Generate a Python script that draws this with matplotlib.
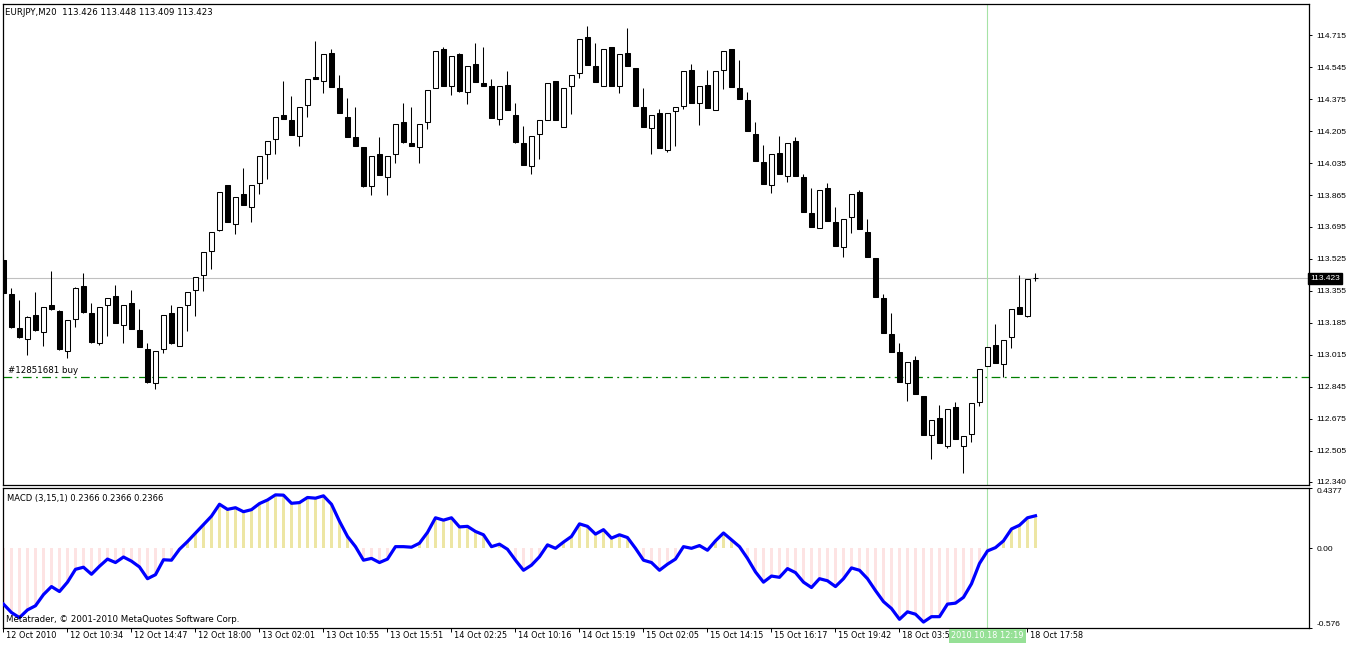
import matplotlib
matplotlib.use("Agg")
import matplotlib.pyplot as plt
import matplotlib.transforms as mtransforms
import numpy as np

plt.rcParams['font.family'] = ['DejaVu Sans']

# EURJPY M20 bars (oldest first, last one is the live bar)
opens = [113.520, 113.339, 113.158, 113.100, 113.227, 113.137, 113.281, 113.249, 113.036, 113.206,
         113.381, 113.238, 113.078, 113.281, 113.328, 113.174, 113.291, 113.148, 113.047, 112.866,
         113.047, 113.238, 113.063, 113.281, 113.360, 113.440, 113.567, 113.679, 113.918, 113.711,
         113.870, 113.801, 113.929, 114.083, 114.162, 114.290, 114.263, 114.178, 114.343, 114.492,
         114.471, 114.619, 114.433, 114.279, 114.173, 114.120, 113.913, 114.083, 113.961, 114.083,
         114.253, 114.141, 114.120, 114.253, 114.433, 114.641, 114.444, 114.614, 114.412, 114.561,
         114.460, 114.444, 114.269, 114.449, 114.290, 114.141, 114.019, 114.189, 114.263, 114.471,
         114.226, 114.444, 114.513, 114.704, 114.550, 114.444, 114.651, 114.444, 114.619, 114.540,
         114.332, 114.221, 114.301, 114.104, 114.311, 114.338, 114.529, 114.354, 114.449, 114.317,
         114.529, 114.641, 114.433, 114.370, 114.189, 114.040, 113.918, 114.088, 113.966, 114.152,
         113.961, 113.769, 113.690, 113.902, 113.721, 113.589, 113.748, 113.881, 113.668, 113.530,
         113.318, 113.126, 113.031, 112.866, 112.988, 112.797, 112.590, 112.680, 112.531, 112.738,
         112.531, 112.595, 112.765, 112.956, 113.068, 112.967, 113.110, 113.270, 113.222, 113.426]
closes = [113.344, 113.164, 113.111, 113.217, 113.148, 113.270, 113.259, 113.047, 113.201, 113.371,
          113.243, 113.084, 113.270, 113.318, 113.185, 113.281, 113.153, 113.057, 112.871, 113.036,
          113.227, 113.078, 113.270, 113.349, 113.429, 113.562, 113.668, 113.881, 113.721, 113.854,
          113.812, 113.918, 114.072, 114.152, 114.279, 114.269, 114.184, 114.332, 114.481, 114.481,
          114.614, 114.439, 114.301, 114.173, 114.125, 113.913, 114.072, 113.971, 114.072, 114.242,
          114.146, 114.125, 114.242, 114.423, 114.630, 114.444, 114.603, 114.417, 114.550, 114.465,
          114.444, 114.274, 114.444, 114.317, 114.146, 114.024, 114.178, 114.263, 114.460, 114.263,
          114.433, 114.502, 114.694, 114.556, 114.465, 114.641, 114.444, 114.614, 114.550, 114.338,
          114.226, 114.290, 114.115, 114.301, 114.332, 114.524, 114.354, 114.444, 114.327, 114.524,
          114.630, 114.439, 114.375, 114.205, 114.046, 113.923, 114.083, 113.976, 114.141, 113.966,
          113.775, 113.695, 113.892, 113.727, 113.594, 113.737, 113.870, 113.684, 113.535, 113.323,
          113.132, 113.031, 112.871, 112.977, 112.808, 112.590, 112.669, 112.547, 112.728, 112.568,
          112.584, 112.760, 112.940, 113.057, 112.972, 113.094, 113.259, 113.233, 113.419, 113.423]
highs = [113.552, 113.371, 113.307, 113.220, 113.350, 113.272, 113.461, 113.252, 113.203, 113.374,
         113.450, 113.291, 113.272, 113.320, 113.387, 113.283, 113.360, 113.259, 113.078, 113.038,
         113.229, 113.281, 113.272, 113.351, 113.431, 113.564, 113.670, 113.883, 113.920, 113.856,
         114.008, 113.920, 114.074, 114.154, 114.281, 114.471, 114.391, 114.334, 114.483, 114.683,
         114.616, 114.641, 114.502, 114.380, 114.332, 114.122, 114.074, 114.173, 114.074, 114.244,
         114.354, 114.332, 114.244, 114.425, 114.632, 114.651, 114.605, 114.619, 114.552, 114.672,
         114.651, 114.481, 114.446, 114.524, 114.354, 114.232, 114.180, 114.265, 114.462, 114.473,
         114.435, 114.504, 114.696, 114.763, 114.672, 114.643, 114.653, 114.616, 114.752, 114.542,
         114.433, 114.292, 114.322, 114.303, 114.334, 114.526, 114.561, 114.446, 114.529, 114.526,
         114.632, 114.643, 114.582, 114.412, 114.253, 114.131, 114.085, 114.178, 114.143, 114.173,
         113.977, 113.902, 113.894, 113.929, 113.801, 113.739, 113.872, 113.892, 113.737, 113.532,
         113.339, 113.238, 113.078, 112.979, 113.009, 112.799, 112.671, 112.749, 112.730, 112.765,
         112.586, 112.762, 112.942, 113.059, 113.179, 113.096, 113.261, 113.440, 113.421, 113.448]
lows = [113.328, 113.160, 113.105, 113.015, 113.145, 113.063, 113.256, 113.044, 112.999, 113.164,
        113.240, 113.081, 113.068, 113.116, 113.183, 113.078, 113.151, 113.055, 112.868, 112.834,
        113.025, 113.075, 113.060, 113.142, 113.222, 113.355, 113.472, 113.676, 113.719, 113.658,
        113.810, 113.721, 113.870, 113.950, 114.083, 114.267, 114.182, 114.125, 114.279, 114.479,
        114.407, 114.437, 114.299, 114.171, 114.123, 113.910, 113.865, 113.969, 113.865, 114.035,
        114.144, 114.123, 114.035, 114.216, 114.431, 114.442, 114.396, 114.415, 114.348, 114.463,
        114.442, 114.272, 114.237, 114.315, 114.144, 114.022, 113.976, 114.056, 114.261, 114.261,
        114.224, 114.295, 114.486, 114.554, 114.463, 114.442, 114.442, 114.407, 114.548, 114.336,
        114.224, 114.083, 114.113, 114.093, 114.125, 114.322, 114.352, 114.237, 114.325, 114.315,
        114.428, 114.437, 114.373, 114.203, 114.044, 113.921, 113.876, 113.974, 113.934, 113.964,
        113.773, 113.693, 113.688, 113.725, 113.592, 113.535, 113.663, 113.682, 113.533, 113.321,
        113.130, 113.029, 112.869, 112.770, 112.806, 112.588, 112.462, 112.545, 112.521, 112.566,
        112.388, 112.552, 112.744, 112.954, 112.970, 112.898, 113.052, 113.231, 113.217, 113.409]

# MACD(3,15,1) per bar
macd = [-0.403, -0.464, -0.501, -0.445, -0.415, -0.334, -0.276, -0.312, -0.244, -0.151,
        -0.136, -0.187, -0.129, -0.077, -0.102, -0.062, -0.092, -0.134, -0.219, -0.190,
        -0.082, -0.085, -0.006, 0.050, 0.111, 0.173, 0.234, 0.320, 0.283, 0.295,
        0.266, 0.281, 0.325, 0.351, 0.388, 0.386, 0.327, 0.332, 0.369, 0.364,
        0.381, 0.320, 0.197, 0.087, 0.013, -0.085, -0.072, -0.102, -0.077, 0.013,
        0.013, 0.009, 0.038, 0.116, 0.222, 0.205, 0.222, 0.156, 0.160, 0.123,
        0.099, 0.013, 0.031, -0.006, -0.085, -0.158, -0.121, -0.060, 0.026, 0.001,
        0.046, 0.087, 0.178, 0.160, 0.104, 0.136, 0.075, 0.099, 0.079, 0.001,
        -0.085, -0.102, -0.158, -0.114, -0.077, 0.013, 0.001, 0.021, -0.013, 0.055,
        0.112, 0.062, 0.013, -0.072, -0.170, -0.244, -0.200, -0.209, -0.146, -0.175,
        -0.244, -0.283, -0.219, -0.234, -0.276, -0.219, -0.141, -0.158, -0.219, -0.305,
        -0.385, -0.435, -0.513, -0.459, -0.476, -0.533, -0.494, -0.494, -0.403, -0.396,
        -0.354, -0.256, -0.109, -0.018, 0.006, 0.055, 0.141, 0.168, 0.222, 0.2366]

# one label every 8 bars; the one under the cursor box is hidden, the one before it is cut
time_labels = ['12 Oct 2010', '12 Oct 10:34', '12 Oct 14:47', '12 Oct 18:00', '13 Oct 02:01',
               '13 Oct 10:55', '13 Oct 15:51', '14 Oct 02:25', '14 Oct 10:16', '14 Oct 15:19',
               '15 Oct 02:05', '15 Oct 14:15', '15 Oct 16:17', '15 Oct 19:42', '18 Oct 03:5',
               '', '18 Oct 17:58']
label_step = 8

price_ticks = [114.715, 114.545, 114.375, 114.205, 114.035, 113.865, 113.695, 113.525,
               113.355, 113.185, 113.015, 112.845, 112.675, 112.505, 112.340]
macd_ticks = [0.4377, 0.0, -0.576]
macd_tick_labels = ['0.4377', '0.00', '-0.576']

bid = 113.423
order_price = 112.898
order_label = '#12851681 buy'
cursor_bar = 123
cursor_label = '2010.10.18 12:19'

fs = 6.2
xfs = 5.9
axis_font = dict(family='Liberation Sans', size=6.0)
n = len(opens)
x = np.arange(n)
o = np.array(opens); c = np.array(closes)
h = np.array(highs); l = np.array(lows)
m = np.array(macd)

fig = plt.figure(figsize=(13.49, 6.45), dpi=100)
ax = fig.add_axes([3/1349, 160/645, 1306/1349, 481/645])
ax2 = fig.add_axes([3/1349, 17/645, 1306/1349, 140/645])

xlim = (-0.06, 163.19)

# ---- price panel
ax.vlines(x, l, h, color='black', linewidth=0.75, zorder=2)
bull = c >= o
body_lo = np.minimum(o, c)
body_h = np.maximum(np.abs(c - o), 0.0005)
ax.bar(x, body_h, bottom=body_lo, width=0.62,
       color=np.where(bull, 'white', 'black'), edgecolor='black', linewidth=0.75, zorder=3)

ax.axhline(bid, color='#c0c0c0', linewidth=0.8, zorder=1)
ax.axhline(order_price, color='#008000', linewidth=0.9, linestyle=(0, (7, 3.5, 1.5, 3.5)), zorder=1)
ax.axvline(cursor_bar, color='#a6e3a6', linewidth=0.8, zorder=1)
ax.text(0.55, order_price + 0.012, order_label, fontsize=fs, va='bottom', ha='left')
ax.text(0.0015, 0.992, 'EURJPY,M20  113.426 113.448 113.409 113.423', transform=ax.transAxes,
        fontsize=fs, va='top', ha='left')

ax.set_xlim(*xlim)
ax.set_ylim(112.324, 114.880)
ax.set_xticks([])
ax.yaxis.tick_right()
ax.set_yticks(price_ticks, [f'{v:.3f}' for v in price_ticks], fontdict=axis_font)
ax.tick_params(axis='y', direction='out', length=2.5, width=0.7, pad=2.8)
trans = mtransforms.blended_transform_factory(ax.transAxes, ax.transData)
ax.text(1.0008, bid, f'{bid:.3f}', transform=trans, color='white', va='center', ha='left',
        bbox=dict(facecolor='black', edgecolor='black', pad=1.3), zorder=10, clip_on=False,
        **axis_font)

# ---- MACD panel
hist_col = np.where(m >= 0, '#ede6a4', '#fde3e3')
ax2.bar(x, m, width=0.28, color=hist_col, linewidth=0, zorder=1)
ax2.plot(x, m, color='#0000ff', linewidth=2.3, zorder=3, solid_joinstyle='round')
ax2.axvline(cursor_bar, color='#a6e3a6', linewidth=0.8, zorder=2)
ax2.text(0.003, 0.955, 'MACD (3,15,1) 0.2366 0.2366 0.2366', transform=ax2.transAxes,
         fontsize=6.05, va='top', ha='left')
ax2.text(0.0025, 0.03, 'Metatrader, \u00a9 2001-2010 MetaQuotes Software Corp.', transform=ax2.transAxes,
         fontsize=fs, va='bottom', ha='left')
ax2.set_xlim(*xlim)
ax2.set_ylim(-0.576, 0.4377)
ax2.yaxis.tick_right()
ax2.set_yticks(macd_ticks, macd_tick_labels, fontdict=axis_font)
for lab in ax2.get_yticklabels():
    if lab.get_text() == '0.4377':
        lab.set_va('top')
    elif lab.get_text() == '-0.576':
        lab.set_va('bottom')
ax2.tick_params(axis='y', direction='out', length=2.5, width=0.7, pad=2.8)

tick_pos = np.arange(0, n, label_step)
ax2.set_xticks(tick_pos, [''] * len(tick_pos))
ax2.tick_params(axis='x', direction='out', length=3, width=0.7)
xtrans = mtransforms.blended_transform_factory(ax2.transData, ax2.transAxes)
for p, lbl in zip(tick_pos, time_labels):
    if lbl:
        ax2.text(p + 0.3, -0.025, lbl, transform=xtrans, fontsize=xfs, va='top', ha='left', clip_on=False)
ax2.text(cursor_bar, -0.025, cursor_label, transform=xtrans, fontsize=xfs, va='top', ha='center',
         color='white', clip_on=False, zorder=10,
         bbox=dict(facecolor='#96e096', edgecolor='none', pad=1.5))

for a in (ax, ax2):
    for s in a.spines.values():
        s.set_color('black')
        s.set_linewidth(0.9)

fig.savefig('out.png', dpi=100)
